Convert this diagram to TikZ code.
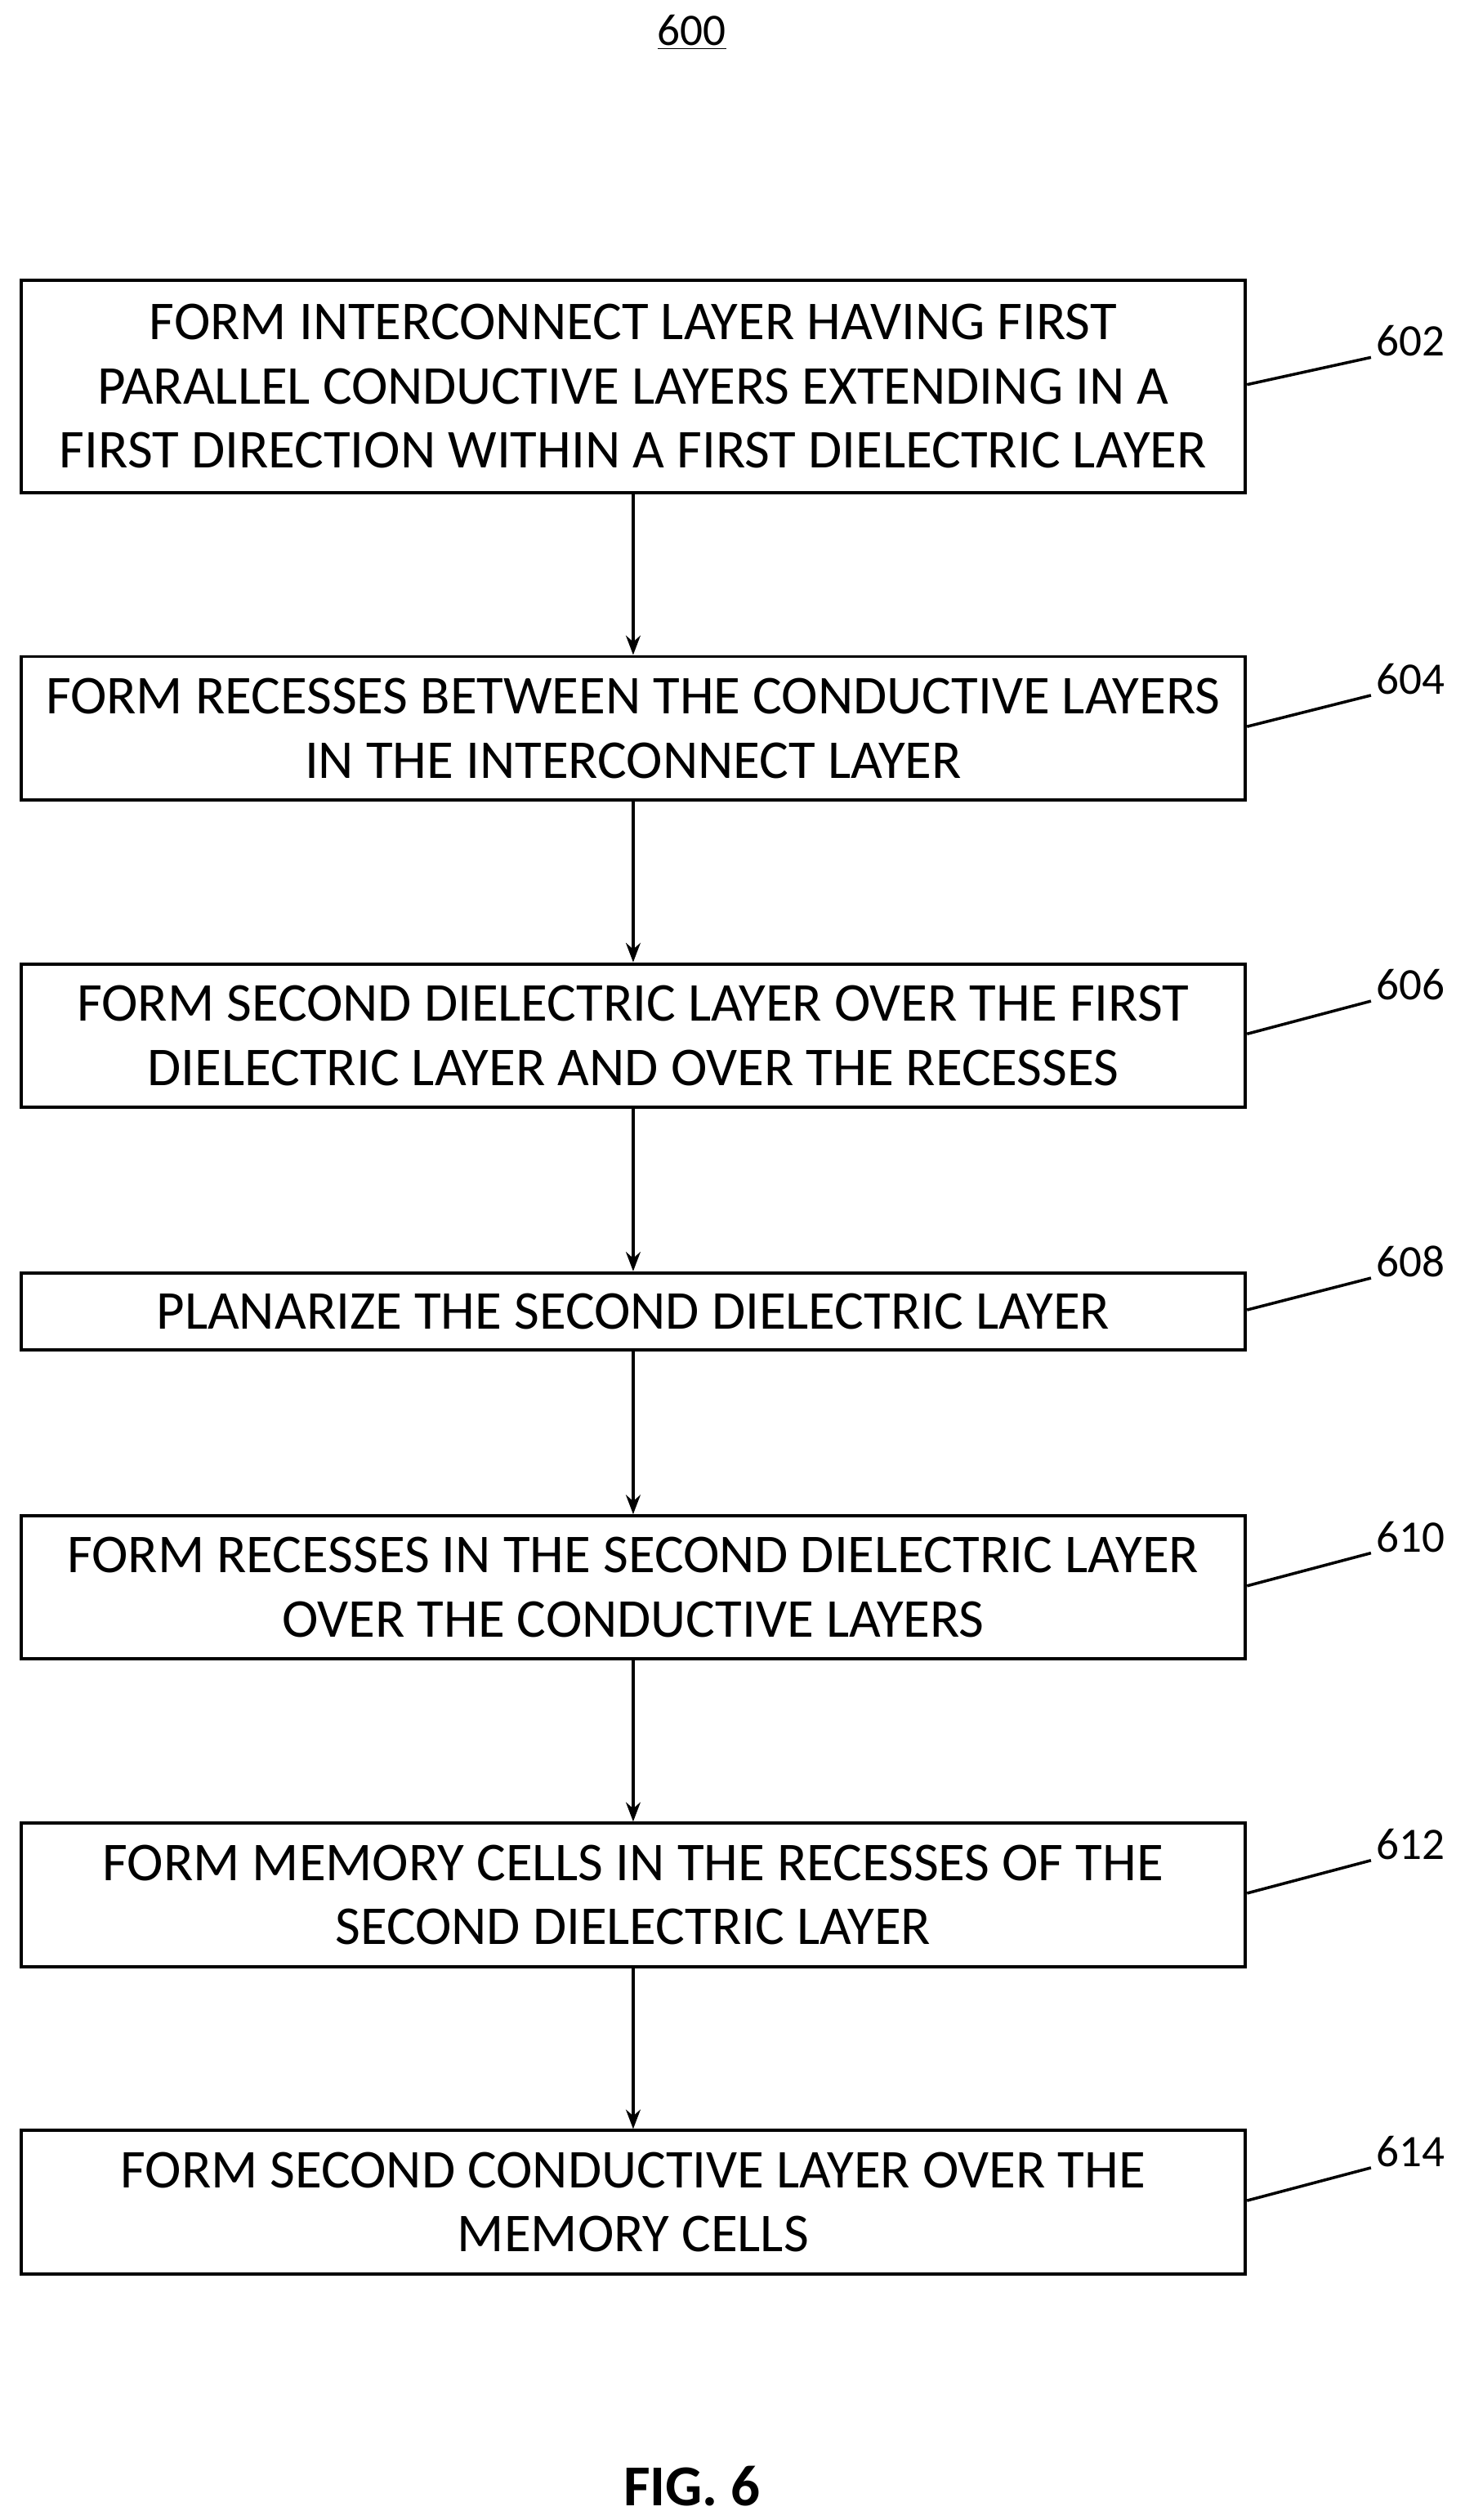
\documentclass[tikz,border=0pt]{standalone}
\usepackage{fontspec}
\setmainfont{Carlito}
\usetikzlibrary{arrows.meta}
\begin{document}
\begin{tikzpicture}[x=1pt,y=-1pt,
 box/.style={draw,line width=2pt,align=center,font=\fontsize{34}{40}\selectfont,inner sep=0pt,anchor=north west},
 arr/.style={line width=2pt,-{Stealth[length=12pt,width=9pt]}},
 lbl/.style={font=\fontsize{28}{30}\selectfont}]
\useasboundingbox (0,0) rectangle (910,1566);
\node[font=\fontsize{28}{30}\selectfont] (t) at (430,20) {\underline{600}};
\def\bx#1#2#3#4{\node[box,minimum width=761pt,minimum height=#3pt] (b#1) at (12,#2) {#4};}
\bx{602}{173}{132}{FORM INTERCONNECT LAYER HAVING FIRST\\PARALLEL CONDUCTIVE LAYERS EXTENDING IN A\\FIRST DIRECTION WITHIN A FIRST DIELECTRIC LAYER}
\bx{604}{407}{89}{FORM RECESSES BETWEEN THE CONDUCTIVE LAYERS\\IN THE INTERCONNECT LAYER}
\bx{606}{598}{89}{FORM SECOND DIELECTRIC LAYER OVER THE FIRST\\DIELECTRIC LAYER AND OVER THE RECESSES}
\bx{608}{790}{48}{PLANARIZE THE SECOND DIELECTRIC LAYER}
\bx{610}{941}{89}{FORM RECESSES IN THE SECOND DIELECTRIC LAYER\\OVER THE CONDUCTIVE LAYERS}
\bx{612}{1132}{89}{FORM MEMORY CELLS IN THE RECESSES OF THE\\SECOND DIELECTRIC LAYER}
\bx{614}{1323}{89}{FORM SECOND CONDUCTIVE LAYER OVER THE\\MEMORY CELLS}
\foreach \a/\b in {602/604,604/606,606/608,608/610,610/612,612/614}
 \draw[arr] (b\a.south) -- (b\b.north);
\foreach \n/\y in {602/212,604/422,606/612,608/784,610/955,612/1146,614/1337}
 \node[lbl,anchor=west] (l\n) at (852,\y) {\n};
\foreach \n/\y/\h in {602/173/132,604/407/89,606/598/89,608/790/48,610/941/89,612/1132/89,614/1323/89}
 \draw[line width=1.8pt] (775,{\y+0.5*\h}) coordinate (s\n) -- ([yshift=3pt]l\n.south west);
\node[font=\fontsize{36}{40}\selectfont\bfseries] (fig) at (430,1545) {FIG. 6};
\end{tikzpicture}
\end{document}
